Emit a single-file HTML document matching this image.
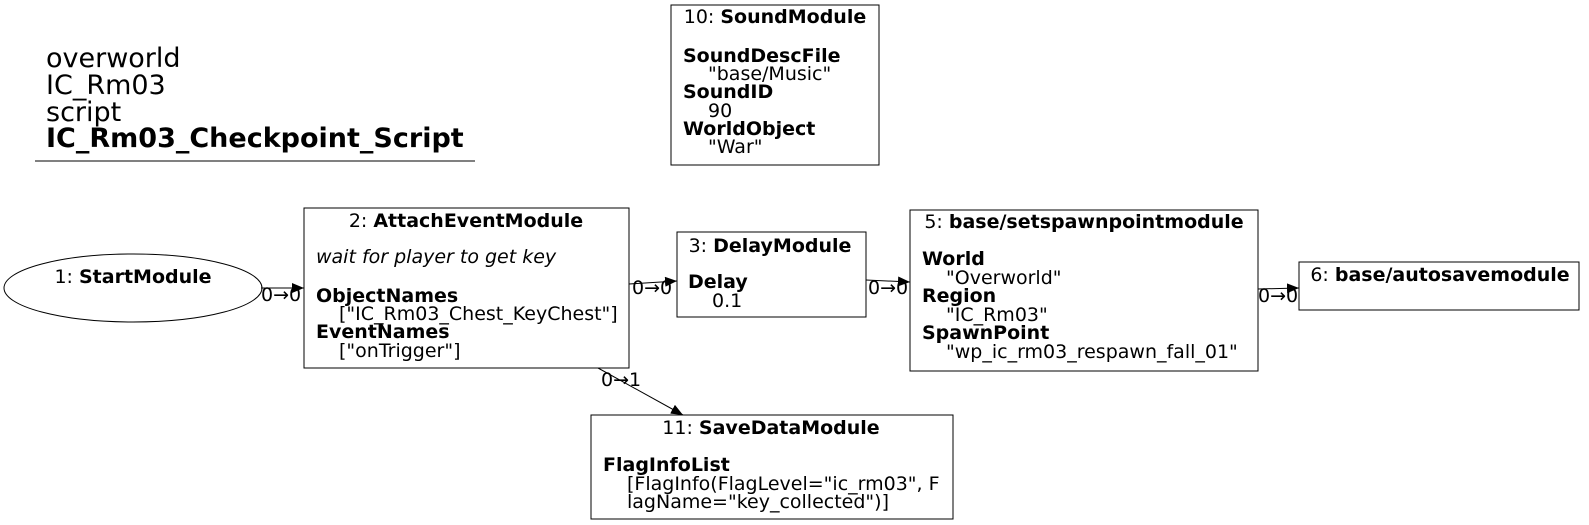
<!DOCTYPE html>
<html><head><meta charset="utf-8"><style>
html,body{margin:0;padding:0;background:#fff;}
svg{display:block;font-family:"DejaVu Sans","Liberation Sans",sans-serif;}
text{font-size:19px;fill:#000;}
.b{font-weight:bold;}
.t{font-size:27px;}
</style></head><body>
<svg width="1589" height="525" viewBox="0 0 1589 525" xmlns="http://www.w3.org/2000/svg">
<defs><marker id="a" markerWidth="12" markerHeight="10" refX="12" refY="5" orient="auto" markerUnits="userSpaceOnUse"><path d="M0,0 L12,5 L0,10 z" fill="#000"/></marker></defs>
<text x="46" y="67" class="t">overworld</text>
<text x="46" y="94" class="t">IC_Rm03</text>
<text x="46" y="121" class="t">script</text>
<text x="46" y="147" class="t b">IC_Rm03_Checkpoint_Script</text>
<line x1="35" y1="161" x2="475" y2="161" stroke="#000"/>

<rect x="671" y="5" width="208" height="160" fill="none" stroke="#000"/>
<text x="775" y="23" text-anchor="middle">10: <tspan class="b">SoundModule</tspan></text>
<text x="683" y="62" class="b">SoundDescFile</text>
<text x="708" y="80">"base/Music"</text>
<text x="683" y="98" class="b">SoundID</text>
<text x="708" y="117">90</text>
<text x="683" y="135" class="b">WorldObject</text>
<text x="708" y="153">"War"</text>

<ellipse cx="133" cy="288" rx="129" ry="34" fill="none" stroke="#000"/>
<text x="133" y="283" text-anchor="middle">1: <tspan class="b">StartModule</tspan></text>

<rect x="304" y="208" width="325" height="160" fill="none" stroke="#000"/>
<text x="466" y="227" text-anchor="middle">2: <tspan class="b">AttachEventModule</tspan></text>
<text x="316" y="263" font-style="italic">wait for player to get key</text>
<text x="316" y="302" class="b">ObjectNames</text>
<text x="339" y="320">["IC_Rm03_Chest_KeyChest"]</text>
<text x="316" y="338" class="b">EventNames</text>
<text x="339" y="357">["onTrigger"]</text>

<rect x="677" y="232" width="189" height="85" fill="none" stroke="#000"/>
<text x="770" y="252" text-anchor="middle">3: <tspan class="b">DelayModule</tspan></text>
<text x="688" y="288" class="b">Delay</text>
<text x="712" y="307">0.1</text>

<rect x="910" y="210" width="348" height="161" fill="none" stroke="#000"/>
<text x="1084" y="228" text-anchor="middle">5: <tspan class="b">base/setspawnpointmodule</tspan></text>
<text x="922" y="265" class="b">World</text>
<text x="946" y="284">"Overworld"</text>
<text x="922" y="302" class="b">Region</text>
<text x="946" y="321">"IC_Rm03"</text>
<text x="922" y="339" class="b">SpawnPoint</text>
<text x="946" y="358">"wp_ic_rm03_respawn_fall_01"</text>

<rect x="1299" y="262" width="280" height="48" fill="none" stroke="#000"/>
<text x="1440" y="281" text-anchor="middle">6: <tspan class="b">base/autosavemodule</tspan></text>

<rect x="591" y="415" width="362" height="104" fill="none" stroke="#000"/>
<text x="771" y="434" text-anchor="middle">11: <tspan class="b">SaveDataModule</tspan></text>
<text x="603" y="471" class="b">FlagInfoList</text>
<text x="627" y="490">[FlagInfo(FlagLevel="ic_rm03", F</text>
<text x="627" y="508">lagName="key_collected")]</text>

<g stroke="#000" fill="none">
<line x1="261" y1="288" x2="304" y2="288" marker-end="url(#a)"/>
<line x1="629" y1="284" x2="677" y2="281" marker-end="url(#a)"/>
<line x1="866" y1="280" x2="910" y2="282" marker-end="url(#a)"/>
<line x1="1258" y1="289" x2="1299" y2="288" marker-end="url(#a)"/>
<line x1="598" y1="368" x2="683" y2="415" marker-end="url(#a)"/>
</g>
<text x="261" y="301">0→0</text>
<text x="632" y="294">0→0</text>
<text x="868" y="294">0→0</text>
<text x="1258" y="302">0→0</text>
<text x="601" y="386">0→1</text>
</svg>
</body></html>
